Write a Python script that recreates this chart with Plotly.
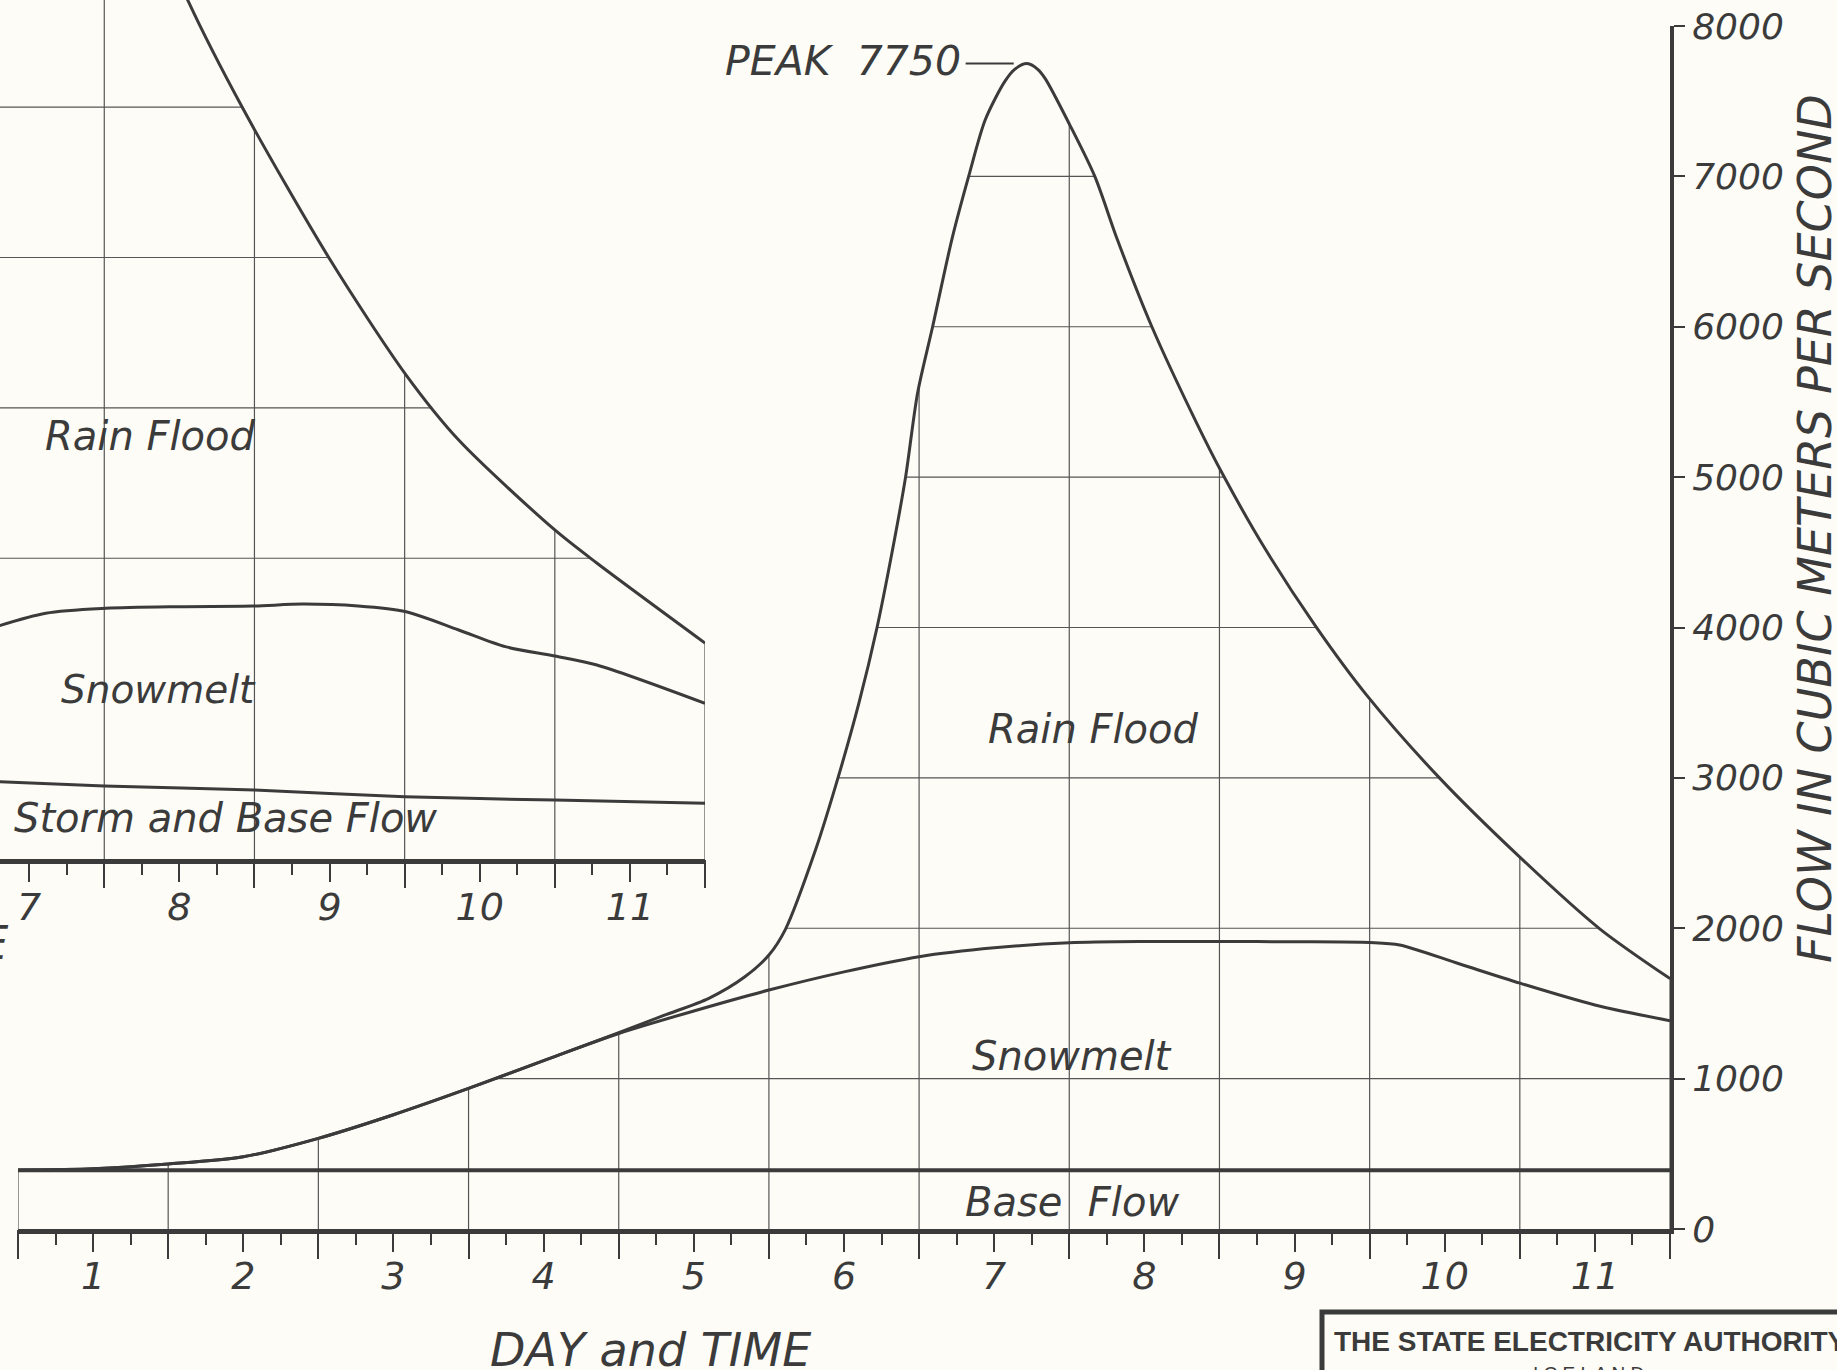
import numpy as np
import plotly.graph_objects as go

# ---------------- data ----------------
DAY_LABELS = ["1", "2", "3", "4", "5", "6", "7", "8", "9", "10", "11"]
DAY_START, DAY_END = 0, 11
Y_TICKS = [0, 1000, 2000, 3000, 4000, 5000, 6000, 7000, 8000]
Y_TICK_TEXT = ["0", "1000", "2000", "3000", "4000", "5000", "6000", "7000", "8000"]

# main hydrograph: total flow (top of the rain flood)
TOTAL_DAYS = [0.0, 0.5, 1.0, 1.5, 2.0, 2.5, 3.0, 3.5, 4.0, 4.3, 4.6, 4.84, 5.0, 5.11,
              5.31, 5.46, 5.6, 5.72, 5.82, 5.91, 5.99, 6.09, 6.22, 6.33, 6.44, 6.57,
              6.64, 6.72, 6.79, 6.84, 7.0, 7.17, 7.32, 7.55, 7.85, 8.02, 8.3, 8.64,
              8.98, 9.46, 10.0, 10.53, 11.0]
TOTAL_FLOW = [390, 400, 432, 480, 603, 760, 935, 1120, 1305, 1420, 1534, 1677, 1822, 1993,
              2520, 3000, 3500, 4000, 4500, 5000, 5560, 6000, 6588, 7000, 7375, 7630,
              7715, 7750, 7712, 7650, 7349, 7000, 6580, 6000, 5356, 5022, 4530, 4009,
              3550, 3005, 2473, 1998, 1665]

# main hydrograph: snowmelt + base flow
SNOW_DAYS = [0.0, 0.5, 1.0, 1.5, 2.0, 2.5, 3.0, 3.5, 4.0, 4.5, 5.0, 5.5, 6.0, 6.5,
             7.0, 7.5, 8.0, 8.5, 9.0, 9.2, 9.6, 10.0, 10.5, 11.0]
SNOW_FLOW = [390, 400, 432, 480, 603, 760, 935, 1120, 1300, 1450, 1589, 1710, 1811, 1870,
             1904, 1912, 1912, 1910, 1905, 1889, 1762, 1635, 1490, 1385]

# main hydrograph: base flow
BASE_DAYS = [0, 11]
BASE_FLOW = [390, 390]

# inset (earlier flood, partly cut off by the page edge)
INSET_LABELS = ["7", "8", "9", "10", "11"]
INSET_TOTAL_DAYS = [7.35, 7.556, 7.925, 8.505, 9.01, 9.36, 10.0, 10.277, 11.0]
INSET_TOTAL_FLOW = [6200, 5711, 4987, 3983, 3218, 2786, 2188, 1970, 1436]
INSET_SNOW_DAYS = [6.2, 6.61, 7.01, 7.5, 7.99, 8.32, 8.69, 9.01, 9.36, 9.67, 10.0, 10.28, 11.0]
INSET_SNOW_FLOW = [1520, 1634, 1667, 1678, 1682, 1695, 1682, 1644, 1523, 1412, 1350, 1290, 1035]
INSET_STORM_DAYS = [6.2, 7.0, 8.0, 9.0, 10.0, 11.0]
INSET_STORM_FLOW = [518, 485, 459, 414, 392, 370]
INSET_GRID_FLOWS = [2000, 3000, 4000, 5000]

# ---------------- style ----------------
W, H = 1837, 1370
BG = "#fdfcf6"
INK = "#3b3b3b"
GRID = "#555555"
FONT = "DejaVu Sans"


def tfont(size, color=INK):
    return dict(family=FONT, size=size, color=color, style="italic", weight=300)


# main plot area in pixels -> domains
MX0, MX1 = 18.0, 1670.0          # x of day 0 and day 11
MY_TOP, MY_BOT = 26.0, 1229.0    # y of 8000 and 0
IX1, IY_BOT = 705.0, 859.0       # inset: x of day 11, y of 0
day_px = (MX1 - MX0) / (DAY_END - DAY_START)
flow_px = (MY_BOT - MY_TOP) / Y_TICKS[-1]
inset_x0 = DAY_END - IX1 / day_px
inset_ytop = IY_BOT / flow_px

noons = [i + 0.5 for i in range(DAY_START, DAY_END)]
midnights = list(range(DAY_START, DAY_END + 1))
quarters = list(np.arange(DAY_START, DAY_END + 0.001, 0.25))
inset_noons = [int(l) - 0.5 for l in INSET_LABELS]
inset_midnights = [int(l) for l in INSET_LABELS]
inset_quarters = [q for q in quarters if q >= inset_x0]

fig = go.Figure()


def grid_trace(days, flows, x0, x1, top, curve_x, curve_y, xa, ya):
    gx, gy = [], []
    for d in days:
        # at the plot edges stop the line at the curve (avoids clip-edge residue)
        t = float(np.interp(d, curve_x, curve_y)) if d in (x0, x1) else top
        gx += [d, d, None]
        gy += [0, t, None]
    for f in flows:
        gx += [x0 - 1, x1, None]
        gy += [f, f, None]
    return go.Scatter(x=gx, y=gy, mode="lines", line=dict(color=GRID, width=1.2),
                      hoverinfo="skip", xaxis=xa, yaxis=ya)


# ---- main subplot ----
ytop = Y_TICKS[-1] * 1.3
fig.add_trace(grid_trace(midnights, Y_TICKS[1:], DAY_START, DAY_END, ytop,
                         TOTAL_DAYS, TOTAL_FLOW, "x", "y"))
fig.add_trace(go.Scatter(x=TOTAL_DAYS, y=TOTAL_FLOW, mode="lines",
                         line=dict(color=INK, width=3, shape="spline", smoothing=0.8),
                         xaxis="x", yaxis="y"))
fig.add_trace(go.Scatter(x=[DAY_START - 1, DAY_END + 1], y=[ytop, ytop], mode="lines",
                         line=dict(width=0), fill="tonexty", fillcolor=BG,
                         hoverinfo="skip", xaxis="x", yaxis="y"))
fig.add_trace(go.Scatter(x=SNOW_DAYS, y=SNOW_FLOW, mode="lines",
                         line=dict(color=INK, width=3, shape="spline", smoothing=0.8),
                         xaxis="x", yaxis="y"))
fig.add_trace(go.Scatter(x=BASE_DAYS, y=BASE_FLOW, mode="lines",
                         line=dict(color=INK, width=4), xaxis="x3", yaxis="y"))

# ---- inset subplot ----
iytop = inset_ytop * 1.5
fig.add_trace(grid_trace(inset_midnights, INSET_GRID_FLOWS, inset_x0, DAY_END, iytop,
                         INSET_TOTAL_DAYS, INSET_TOTAL_FLOW, "x2", "y2"))
fig.add_trace(go.Scatter(x=INSET_TOTAL_DAYS, y=INSET_TOTAL_FLOW, mode="lines",
                         line=dict(color=INK, width=3, shape="spline", smoothing=0.8),
                         xaxis="x2", yaxis="y2"))
fig.add_trace(go.Scatter(x=[inset_x0 - 1, DAY_END + 1], y=[iytop, iytop], mode="lines",
                         line=dict(width=0), fill="tonexty", fillcolor=BG,
                         hoverinfo="skip", xaxis="x2", yaxis="y2"))
fig.add_trace(go.Scatter(x=INSET_SNOW_DAYS, y=INSET_SNOW_FLOW, mode="lines",
                         line=dict(color=INK, width=3, shape="spline", smoothing=0.8),
                         xaxis="x2", yaxis="y2"))
fig.add_trace(go.Scatter(x=INSET_STORM_DAYS, y=INSET_STORM_FLOW, mode="lines",
                         line=dict(color=INK, width=3, shape="spline", smoothing=0.8),
                         xaxis="x4", yaxis="y2"))

# peak marker dash
peak_i = int(np.argmax(TOTAL_FLOW))
peak_d, peak_v = TOTAL_DAYS[peak_i], TOTAL_FLOW[peak_i]
fig.add_trace(go.Scatter(x=[peak_d - 0.41, peak_d - 0.09], y=[peak_v, peak_v], mode="lines",
                         line=dict(color=INK, width=2), xaxis="x", yaxis="y"))

common_tick = dict(ticks="outside", tickwidth=2, tickcolor=INK, showgrid=False,
                   zeroline=False, fixedrange=True)

fig.update_layout(
    width=W, height=H, template="none", showlegend=False,
    margin=dict(l=0, r=0, t=0, b=0),
    paper_bgcolor=BG, plot_bgcolor=BG,
    xaxis=dict(domain=[MX0 / W, MX1 / W], range=[DAY_START, DAY_END], anchor="y",
               tickmode="array", tickvals=noons, ticktext=DAY_LABELS, ticklen=18,
               showline=True, linewidth=5, linecolor=INK, tickfont=tfont(38),
               ticklabelstandoff=-9,
               minor=dict(tickmode="array", tickvals=quarters, ticks="outside",
                          ticklen=11, tickwidth=2, tickcolor=INK, showgrid=False),
               **common_tick),
    xaxis3=dict(overlaying="x", anchor="y", range=[DAY_START, DAY_END],
                tickmode="array", tickvals=midnights, ticklen=29, showline=False,
                showticklabels=False, **common_tick),
    yaxis=dict(domain=[1 - MY_BOT / H, 1 - MY_TOP / H], range=[0, Y_TICKS[-1]],
               anchor="x", side="right", tickmode="array", tickvals=Y_TICKS,
               ticktext=Y_TICK_TEXT, ticklen=11, showline=True, linewidth=4,
               linecolor=INK, tickfont=tfont(36), **common_tick),
    xaxis2=dict(domain=[0, IX1 / W], range=[inset_x0, DAY_END], anchor="y2",
                tickmode="array", tickvals=inset_noons, ticktext=INSET_LABELS, ticklen=18,
                showline=True, linewidth=5, linecolor=INK, tickfont=tfont(38),
                ticklabelstandoff=-8,
                minor=dict(tickmode="array", tickvals=inset_quarters, ticks="outside",
                           ticklen=11, tickwidth=2, tickcolor=INK, showgrid=False),
                **common_tick),
    xaxis4=dict(overlaying="x2", anchor="y2", range=[inset_x0, DAY_END],
                tickmode="array", tickvals=inset_midnights, ticklen=28, showline=False,
                showticklabels=False, **common_tick),
    yaxis2=dict(domain=[1 - IY_BOT / H, 1], range=[0, inset_ytop], anchor="x2",
                showline=False, showticklabels=False, showgrid=False, zeroline=False,
                ticks="", fixedrange=True),
)


def note(x, y, text, font, xref="x", yref="y", xanchor="center", yanchor="middle", **kw):
    return dict(x=x, y=y, xref=xref, yref=yref, text=text, showarrow=False, font=font,
                xanchor=xanchor, yanchor=yanchor, **kw)


ann = []
# main chart labels
ann.append(note(7.16, 3326, "Rain Flood", tfont(40)))
ann.append(note(7.02, 1153, "Snowmelt", tfont(40)))
ann.append(note(7.02, 179, "Base  Flow", tfont(40)))
ann.append(note(peak_d - 0.43, peak_v + 15, "PEAK  %d" % peak_v, tfont(41), xanchor="right"))
# inset labels
ann.append(note(7.31, 2812, "Rain Flood", tfont(40), xref="x2", yref="y2"))
ann.append(note(7.36, 1130, "Snowmelt", tfont(39), xref="x2", yref="y2"))
ann.append(note(7.81, 273, "Storm and Base Flow", tfont(40), xref="x2", yref="y2"))
ann.append(note(10 / W, 1 - 943 / H, "DAY and TIME", tfont(46), xref="paper", yref="paper",
                xanchor="right"))
# axis titles
ann.append(note(650 / W, 1 - 1350 / H, "DAY and TIME", tfont(46), xref="paper", yref="paper"))
ann.append(note(1815 / W, 1 - 529 / H, "FLOW IN CUBIC METERS PER SECOND", tfont(46),
                xref="paper", yref="paper", textangle=-90))
# title block
ann.append(note(1332 / W, 1 - 1341 / H, "THE STATE ELECTRICITY AUTHORITY",
                dict(family="Liberation Sans", size=28, color=INK, weight="bold"),
                xref="paper", yref="paper", xanchor="left"))
ann.append(note(1588 / W, 1 - 1361 / H, "I C E L A N D",
                dict(family="Liberation Sans", size=19, color=INK),
                xref="paper", yref="paper", yanchor="top"))
fig.update_layout(annotations=ann)

fig.add_shape(type="rect", xref="paper", yref="paper", x0=1322 / W, x1=1.1,
              y0=-0.1, y1=1 - 1312 / H, line=dict(color=INK, width=5),
              fillcolor="rgba(0,0,0,0)", layer="above")

fig.write_html("out.html")
